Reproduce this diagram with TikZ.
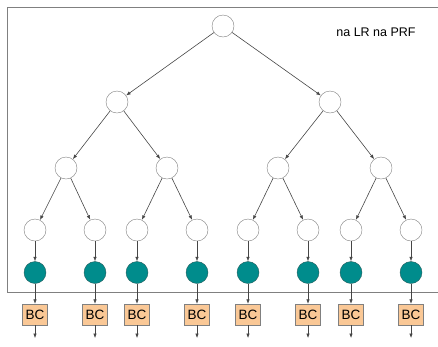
\documentclass[tikz,border=0pt]{standalone}
\usepackage{fontspec}
\setmainfont{Liberation Sans}
\usetikzlibrary{positioning,arrows.meta}
\definecolor{edgegray}{RGB}{70,70,70}
\definecolor{ringgray}{RGB}{128,128,128}
\definecolor{tealfill}{RGB}{0,140,140}
\definecolor{tealline}{RGB}{40,95,95}
\definecolor{bcfill}{RGB}{250,200,150}
\begin{document}
\begin{tikzpicture}[x=1pt, y=-1pt, node distance=42pt,
  every node/.style={font=\fontsize{12.5}{14}\selectfont},
  vertex/.style={draw=ringgray, circle, fill=white, minimum size=22pt, inner sep=0pt},
  leafdot/.style={draw=tealline, circle, fill=tealfill, minimum size=22pt, inner sep=0pt},
  bcbox/.style={draw=ringgray, fill=bcfill, minimum width=25pt, minimum height=21pt, inner sep=0pt,
    font=\fontsize{13.5}{15}\selectfont},
  edge/.style={draw=edgegray, line width=0.6pt, -{Latex[length=4.5pt,width=3.5pt]}}]
\useasboundingbox (0,0) rectangle (438,346);
\draw[ringgray, line width=0.7pt] (438,7.5) -- (7.5,7.5) -- (7.5,292) -- (438,292);
\node at (376,32) (title) {na LR na PRF};
% tree
\node[vertex] at (223,26) (root) {};
\node[vertex] at (117,102) (l) {};
\node[vertex] at (330,102) (r) {};
\node[vertex] at (66,168) (ll) {};
\node[vertex] at (167,168) (lr) {};
\node[vertex] at (278,168) (rl) {};
\node[vertex] at (381,168) (rr) {};
\draw[edge] (root) -- (l);
\draw[edge] (root) -- (r);
\draw[edge] (l) -- (ll);
\draw[edge] (l) -- (lr);
\draw[edge] (r) -- (rl);
\draw[edge] (r) -- (rr);
% leaves, each with its dot and BC box
\foreach \i/\x/\p in {1/35/ll, 2/95/ll, 3/137/lr, 4/197/lr, 5/248/rl, 6/308/rl, 7/351/rr, 8/411/rr} {
  \node[vertex] at (\x,230) (leaf\i) {};
  \node[leafdot, below of=leaf\i, yshift=-0.5pt] (dot\i) {};
  \node[bcbox, below of=dot\i] (bc\i) {BC};
  \coordinate (out\i) at (\x,338);
  \draw[edge] (\p) -- (leaf\i);
  \draw[edge] (leaf\i) -- (dot\i);
  \draw[edge] (dot\i) -- (bc\i);
  \draw[edge] (bc\i) -- (out\i);
}
\end{tikzpicture}
\end{document}
